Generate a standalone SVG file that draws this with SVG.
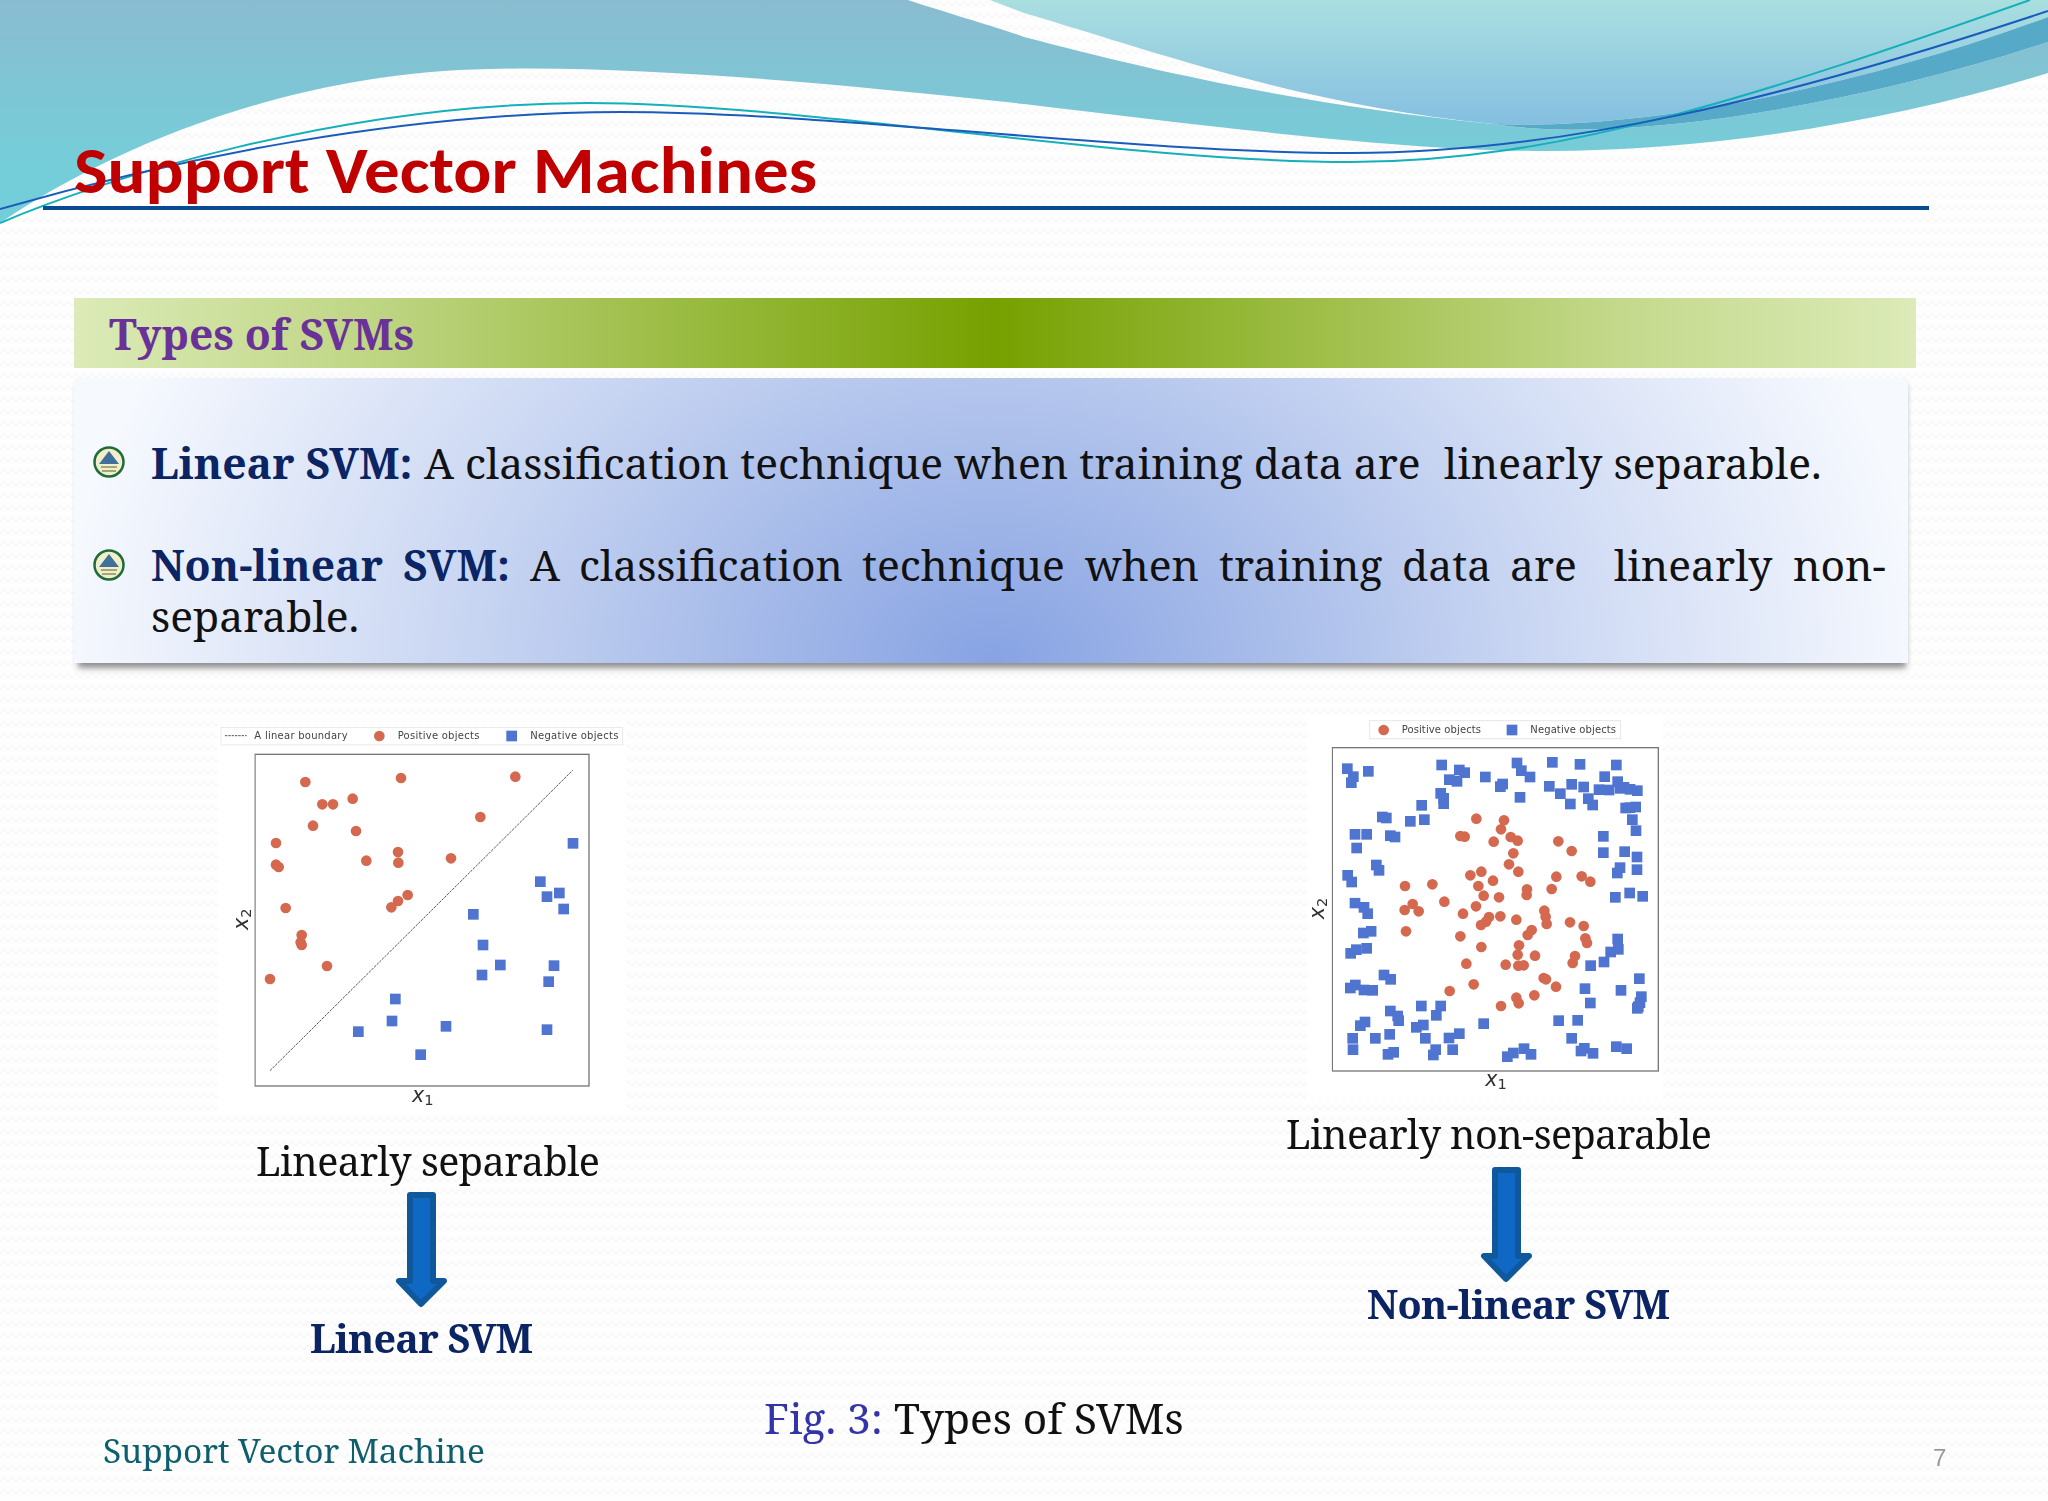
<svg xmlns="http://www.w3.org/2000/svg" width="2048" height="1501" viewBox="0 0 2048 1501">
<style>
.s{font-family:"Noto Serif","DejaVu Serif","Liberation Serif",serif}
.p{font-family:"DejaVu Sans","Liberation Sans",sans-serif;fill:#444;font-size:30px}
.m{font-family:"DejaVu Sans","Liberation Sans",sans-serif;fill:#333;font-style:italic;font-size:62px}
.u{font-size:44px;font-style:normal}
.c{fill:#d4694f}.q{fill:#4f74d0}
.navy{fill:#0a2464;font-weight:bold}
.arrow{fill:#0e68c4;stroke:#10589c;stroke-width:6;stroke-linejoin:round}
.bl{fill:#f1efca;stroke:#1f6b3a;stroke-width:2.5}
</style>
<defs>
<pattern id="tex" width="16" height="12" patternUnits="userSpaceOnUse"><path d="M0 6L4 1L8 6L12 1L16 6" fill="none" stroke="#f3f3f3" stroke-width="1"/></pattern>
<linearGradient id="band" gradientUnits="userSpaceOnUse" x1="0" y1="0" x2="0" y2="170"><stop offset="0" stop-color="#8abcd0"/><stop offset="1" stop-color="#74ced9"/></linearGradient>
<linearGradient id="light" x1="0" y1="0" x2="0" y2="1"><stop offset="0" stop-color="#aadfe0"/><stop offset="1" stop-color="#84bfe0"/></linearGradient>
<linearGradient id="bar" x1="0" y1="0" x2="1" y2="0"><stop offset="0" stop-color="#dcebb8"/><stop offset=".16" stop-color="#bfd684"/><stop offset=".5" stop-color="#76a100"/><stop offset=".84" stop-color="#c4d98c"/><stop offset="1" stop-color="#dcebb8"/></linearGradient>
<radialGradient id="box" gradientUnits="userSpaceOnUse" cx="0" cy="0" r="1" gradientTransform="translate(993 663) scale(930 700)"><stop offset="0" stop-color="#87a3e3"/><stop offset=".3" stop-color="#a9bdea"/><stop offset=".6" stop-color="#ccd8f3"/><stop offset="1" stop-color="#f6f9fe"/></radialGradient>
<filter id="sh" x="-3%" y="-5%" width="106%" height="115%"><feGaussianBlur stdDeviation="3"/></filter>
<filter id="soft" x="-2%" y="-2%" width="104%" height="104%"><feGaussianBlur stdDeviation="0.4"/></filter>
<circle id="o" r="16" class="c"/>
<rect id="b" x="-16" y="-16" width="32" height="32" class="q"/>
<g id="bullet"><circle r="14.5" class="bl"/><path d="M-10,2L0,-11L10,2Z" fill="#3f6f9a"/><path d="M-8,5H8M-7,9H7" stroke="#8a9060" stroke-width="1.5"/></g>
</defs>
<rect width="2048" height="1501" fill="#fefefe"/>
<rect width="2048" height="1501" fill="url(#tex)"/>

<g id="header-waves">
<path fill="url(#band)" d="M0,0H908C960,17 1000,28 1024,37C1150,70 1300,105 1494,124C1620,145 1860,105 2048,42V73C1880,125 1700,151 1547,151C1400,151 1200,125 1024,104C850,85 640,65 490,69C290,72 110,148 0,223Z"/>
<path fill="url(#light)" d="M990,0H2048V17C1850,90 1640,130 1494,124C1300,105 1150,50 1024,13Z"/>
<path fill="#56aac8" d="M1494,124C1640,130 1850,90 2048,17V42C1860,105 1620,145 1494,124Z"/>
<path fill="none" stroke="#14b0bb" stroke-width="2" d="M0,223C100,180 340,103 588,103C800,103 1120,162 1351,162C1560,162 1760,95 2030,0"/>
<path fill="none" stroke="#1a5cbc" stroke-width="2" d="M0,209C170,160 400,112 621,112C830,112 1130,153 1351,153C1560,153 1780,100 2048,11"/>
</g>
<rect id="title-rule" x="43" y="206" width="1886" height="4" fill="#0a4a94"/>
<text id="title" x="74" y="193" font-family="Carlito,Lato,sans-serif" font-weight="bold" font-size="66" fill="#c00000" textLength="743" lengthAdjust="spacingAndGlyphs">Support Vector Machines</text>

<g id="section-bar">
<rect x="74" y="298" width="1842" height="70" fill="url(#bar)"/>
<text class="s" x="109" y="350" font-size="44" font-weight="bold" fill="#6a3198" textLength="305" lengthAdjust="spacingAndGlyphs">Types of SVMs</text>
</g>

<g id="definition-box">
<rect x="78" y="384" width="1828" height="284" fill="#444" opacity=".6" filter="url(#sh)"/>
<rect x="74" y="378" width="1834" height="285" fill="url(#box)"/>
<use id="bullet-1" href="#bullet" x="109" y="462"/>
<use id="bullet-2" href="#bullet" x="109" y="565"/>
<text class="s" y="479" font-size="42.6" fill="#111"><tspan class="navy" x="151">Linear SVM:</tspan><tspan x="424">A classification technique when training data are</tspan><tspan x="1444">linearly separable.</tspan></text>
<text class="s" y="581" font-size="42.6" fill="#111"><tspan class="navy" x="151">Non-linear</tspan><tspan class="navy" x="403">SVM:</tspan><tspan x="530">A</tspan><tspan x="579">classification</tspan><tspan x="862">technique</tspan><tspan x="1085">when</tspan><tspan x="1219">training</tspan><tspan x="1402">data</tspan><tspan x="1510">are</tspan><tspan x="1614">linearly</tspan><tspan x="1793">non-</tspan></text>
<text class="s" x="151" y="632" font-size="42.6" fill="#111">separable.</text>
</g>

<g id="linear-plot">
<rect x="218" y="722" width="409" height="391" fill="#fff"/>
<g transform="translate(200 710) scale(.33333)" filter="url(#soft)">
<rect x="63" y="52" width="1205" height="53" fill="#fff" stroke="#e6e6e6" stroke-width="3"/>
<path d="M75,77H140" stroke="#555" stroke-width="3" stroke-dasharray="7 3"/>
<text class="p" x="163" y="87" textLength="280">A linear boundary</text>
<use href="#o" x="538" y="78"/>
<text class="p" x="593" y="87" textLength="245">Positive objects</text>
<use href="#b" x="935" y="78"/>
<text class="p" x="991" y="87" textLength="264">Negative objects</text>
<rect x="165" y="133" width="1002" height="995" fill="#fff" stroke="#777" stroke-width="4"/>
<path d="M210,1082L1118,181" stroke="#555" stroke-width="3" stroke-dasharray="8 3"/>
<text class="m" x="636" y="1176">x<tspan class="u" dy="10">1</tspan></text>
<text class="m" transform="translate(143 660) rotate(-90)">x<tspan class="u" dy="10">2</tspan></text>
<g id="linear-positive">
<use href="#o" x="316" y="216"/><use href="#o" x="603" y="204"/><use href="#o" x="946" y="200"/><use href="#o" x="458" y="266"/><use href="#o" x="367" y="283"/><use href="#o" x="399" y="283"/><use href="#o" x="841" y="321"/><use href="#o" x="339" y="347"/><use href="#o" x="468" y="363"/><use href="#o" x="228" y="399"/><use href="#o" x="594" y="426"/><use href="#o" x="595" y="458"/><use href="#o" x="499" y="452"/><use href="#o" x="753" y="445"/><use href="#o" x="228" y="464"/><use href="#o" x="236" y="471"/><use href="#o" x="623" y="555"/><use href="#o" x="594" y="573"/><use href="#o" x="574" y="592"/><use href="#o" x="257" y="594"/><use href="#o" x="305" y="675"/><use href="#o" x="302" y="697"/><use href="#o" x="305" y="705"/><use href="#o" x="381" y="768"/><use href="#o" x="210" y="807"/>
</g>
<g id="linear-negative">
<use href="#b" x="1119" y="400"/><use href="#b" x="1021" y="515"/><use href="#b" x="1078" y="549"/><use href="#b" x="1041" y="560"/><use href="#b" x="1091" y="597"/><use href="#b" x="820" y="613"/><use href="#b" x="849" y="705"/><use href="#b" x="901" y="765"/><use href="#b" x="846" y="795"/><use href="#b" x="1062" y="767"/><use href="#b" x="1046" y="815"/><use href="#b" x="586" y="867"/><use href="#b" x="576" y="933"/><use href="#b" x="475" y="965"/><use href="#b" x="738" y="949"/><use href="#b" x="662" y="1034"/><use href="#b" x="1041" y="959"/>
</g>
</g>
</g>

<g id="nonlinear-plot">
<rect x="1307" y="714" width="356" height="383" fill="#fff"/>
<g transform="translate(1300 710) scale(.33333)" filter="url(#soft)">
<rect x="208" y="32" width="754" height="54" fill="#fff" stroke="#e6e6e6" stroke-width="3"/>
<use href="#o" x="251" y="60"/>
<text class="p" x="305" y="68" textLength="238">Positive objects</text>
<use href="#b" x="636" y="60"/>
<text class="p" x="691" y="68" textLength="257">Negative objects</text>
<rect x="97" y="113" width="978" height="970" fill="#fff" stroke="#777" stroke-width="4"/>
<text class="m" x="556" y="1128">x<tspan class="u" dy="10">1</tspan></text>
<text class="m" transform="translate(72 628) rotate(-90)">x<tspan class="u" dy="10">2</tspan></text>
<g id="nonlinear-negative">
<use href="#b" x="142" y="176"/><use href="#b" x="160" y="200"/><use href="#b" x="154" y="218"/><use href="#b" x="205" y="184"/><use href="#b" x="425" y="165"/><use href="#b" x="478" y="180"/><use href="#b" x="494" y="188"/><use href="#b" x="448" y="209"/><use href="#b" x="471" y="214"/><use href="#b" x="556" y="201"/><use href="#b" x="608" y="222"/><use href="#b" x="601" y="230"/><use href="#b" x="651" y="159"/><use href="#b" x="664" y="182"/><use href="#b" x="690" y="201"/><use href="#b" x="757" y="157"/><use href="#b" x="840" y="163"/><use href="#b" x="949" y="165"/><use href="#b" x="914" y="200"/><use href="#b" x="953" y="215"/><use href="#b" x="748" y="229"/><use href="#b" x="781" y="251"/><use href="#b" x="815" y="223"/><use href="#b" x="851" y="231"/><use href="#b" x="897" y="239"/><use href="#b" x="927" y="240"/><use href="#b" x="960" y="235"/><use href="#b" x="972" y="232"/><use href="#b" x="990" y="238"/><use href="#b" x="1012" y="242"/><use href="#b" x="660" y="262"/><use href="#b" x="422" y="250"/><use href="#b" x="431" y="265"/><use href="#b" x="431" y="281"/><use href="#b" x="811" y="282"/><use href="#b" x="865" y="266"/><use href="#b" x="878" y="285"/><use href="#b" x="977" y="294"/><use href="#b" x="990" y="293"/><use href="#b" x="1007" y="291"/><use href="#b" x="365" y="286"/><use href="#b" x="247" y="321"/><use href="#b" x="259" y="324"/><use href="#b" x="373" y="329"/><use href="#b" x="331" y="334"/><use href="#b" x="997" y="329"/><use href="#b" x="1008" y="362"/><use href="#b" x="165" y="373"/><use href="#b" x="200" y="373"/><use href="#b" x="271" y="377"/><use href="#b" x="285" y="381"/><use href="#b" x="170" y="414"/><use href="#b" x="910" y="379"/><use href="#b" x="910" y="428"/><use href="#b" x="974" y="425"/><use href="#b" x="1011" y="441"/><use href="#b" x="229" y="465"/><use href="#b" x="237" y="481"/><use href="#b" x="960" y="473"/><use href="#b" x="952" y="489"/><use href="#b" x="1011" y="479"/><use href="#b" x="143" y="496"/><use href="#b" x="155" y="516"/><use href="#b" x="946" y="562"/><use href="#b" x="989" y="549"/><use href="#b" x="1028" y="559"/><use href="#b" x="165" y="579"/><use href="#b" x="192" y="592"/><use href="#b" x="203" y="611"/><use href="#b" x="190" y="669"/><use href="#b" x="214" y="664"/><use href="#b" x="152" y="730"/><use href="#b" x="169" y="719"/><use href="#b" x="200" y="715"/><use href="#b" x="953" y="687"/><use href="#b" x="932" y="726"/><use href="#b" x="955" y="718"/><use href="#b" x="912" y="756"/><use href="#b" x="872" y="767"/><use href="#b" x="252" y="795"/><use href="#b" x="272" y="808"/><use href="#b" x="1018" y="806"/><use href="#b" x="151" y="834"/><use href="#b" x="166" y="825"/><use href="#b" x="192" y="840"/><use href="#b" x="218" y="841"/><use href="#b" x="855" y="836"/><use href="#b" x="963" y="841"/><use href="#b" x="871" y="879"/><use href="#b" x="1024" y="860"/><use href="#b" x="1020" y="878"/><use href="#b" x="1015" y="890"/><use href="#b" x="1012" y="895"/><use href="#b" x="271" y="903"/><use href="#b" x="293" y="918"/><use href="#b" x="296" y="932"/><use href="#b" x="364" y="888"/><use href="#b" x="422" y="888"/><use href="#b" x="409" y="916"/><use href="#b" x="195" y="936"/><use href="#b" x="181" y="947"/><use href="#b" x="370" y="945"/><use href="#b" x="349" y="952"/><use href="#b" x="551" y="941"/><use href="#b" x="776" y="932"/><use href="#b" x="833" y="931"/><use href="#b" x="158" y="985"/><use href="#b" x="226" y="985"/><use href="#b" x="269" y="973"/><use href="#b" x="376" y="985"/><use href="#b" x="447" y="984"/><use href="#b" x="478" y="971"/><use href="#b" x="815" y="985"/><use href="#b" x="159" y="1019"/><use href="#b" x="264" y="1033"/><use href="#b" x="281" y="1027"/><use href="#b" x="407" y="1019"/><use href="#b" x="400" y="1035"/><use href="#b" x="458" y="1019"/><use href="#b" x="622" y="1040"/><use href="#b" x="640" y="1029"/><use href="#b" x="672" y="1016"/><use href="#b" x="693" y="1033"/><use href="#b" x="853" y="1015"/><use href="#b" x="843" y="1023"/><use href="#b" x="879" y="1030"/><use href="#b" x="949" y="1010"/><use href="#b" x="980" y="1016"/>
</g>
<g id="nonlinear-positive">
<use href="#o" x="529" y="326"/><use href="#o" x="612" y="331"/><use href="#o" x="603" y="358"/><use href="#o" x="481" y="378"/><use href="#o" x="494" y="380"/><use href="#o" x="581" y="395"/><use href="#o" x="632" y="381"/><use href="#o" x="653" y="392"/><use href="#o" x="775" y="394"/><use href="#o" x="815" y="423"/><use href="#o" x="640" y="430"/><use href="#o" x="627" y="463"/><use href="#o" x="655" y="485"/><use href="#o" x="511" y="496"/><use href="#o" x="544" y="485"/><use href="#o" x="579" y="512"/><use href="#o" x="535" y="528"/><use href="#o" x="769" y="500"/><use href="#o" x="845" y="499"/><use href="#o" x="871" y="515"/><use href="#o" x="315" y="528"/><use href="#o" x="397" y="523"/><use href="#o" x="681" y="538"/><use href="#o" x="755" y="537"/><use href="#o" x="680" y="555"/><use href="#o" x="551" y="557"/><use href="#o" x="597" y="562"/><use href="#o" x="433" y="575"/><use href="#o" x="338" y="582"/><use href="#o" x="528" y="589"/><use href="#o" x="314" y="600"/><use href="#o" x="356" y="604"/><use href="#o" x="489" y="611"/><use href="#o" x="733" y="602"/><use href="#o" x="737" y="620"/><use href="#o" x="740" y="642"/><use href="#o" x="567" y="621"/><use href="#o" x="601" y="619"/><use href="#o" x="558" y="635"/><use href="#o" x="543" y="645"/><use href="#o" x="649" y="629"/><use href="#o" x="810" y="637"/><use href="#o" x="851" y="648"/><use href="#o" x="318" y="664"/><use href="#o" x="695" y="660"/><use href="#o" x="683" y="675"/><use href="#o" x="481" y="679"/><use href="#o" x="856" y="685"/><use href="#o" x="861" y="699"/><use href="#o" x="544" y="711"/><use href="#o" x="657" y="706"/><use href="#o" x="825" y="738"/><use href="#o" x="653" y="734"/><use href="#o" x="705" y="737"/><use href="#o" x="818" y="759"/><use href="#o" x="499" y="761"/><use href="#o" x="617" y="764"/><use href="#o" x="655" y="767"/><use href="#o" x="671" y="766"/><use href="#o" x="731" y="804"/><use href="#o" x="738" y="808"/><use href="#o" x="521" y="823"/><use href="#o" x="768" y="830"/><use href="#o" x="449" y="843"/><use href="#o" x="649" y="863"/><use href="#o" x="656" y="880"/><use href="#o" x="703" y="856"/><use href="#o" x="603" y="888"/>
</g>
</g>
</g>

<g id="linear-result">
<text class="s" x="256" y="1176" font-size="39.5" fill="#111" textLength="344">Linearly separable</text>
<path id="arrow-left" class="arrow" d="M410,1195H433V1281H444L421,1304L399,1281H410Z"/>
<text class="s navy" x="310" y="1353" font-size="39.5" textLength="223">Linear SVM</text>
</g>
<g id="nonlinear-result">
<text class="s" x="1286" y="1149" font-size="39.5" fill="#111" textLength="426">Linearly non-separable</text>
<path id="arrow-right" class="arrow" d="M1495,1170H1518V1256H1529L1506,1279L1484,1256H1495Z"/>
<text class="s navy" x="1367" y="1319" font-size="39.5" textLength="303">Non-linear SVM</text>
</g>

<text id="caption" class="s" y="1434" font-size="42.4"><tspan x="764" fill="#3333aa">Fig. 3:</tspan><tspan x="894" fill="#111">Types of SVMs</tspan></text>
<text id="footer" class="s" x="103" y="1463" font-size="33.5" fill="#0e5f6e" textLength="382">Support Vector Machine</text>
<text id="page-number" x="1933" y="1466" font-family="Liberation Sans,sans-serif" font-size="24" fill="#999">7</text>
</svg>
